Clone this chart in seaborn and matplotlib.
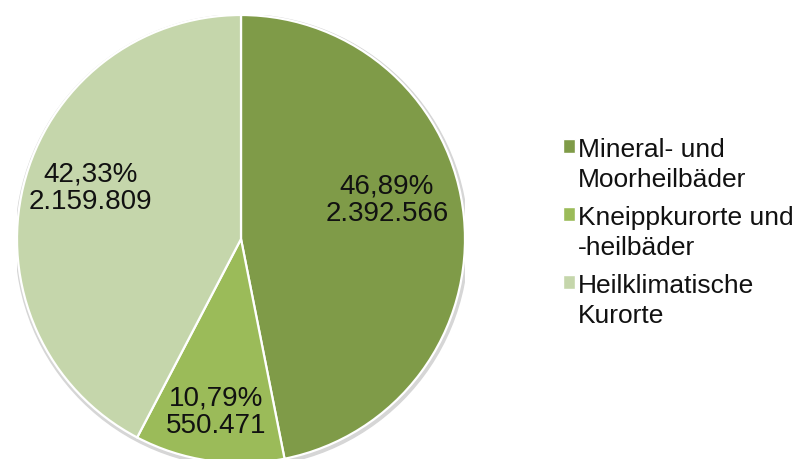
import numpy as np
import seaborn as sns
import matplotlib.pyplot as plt
from matplotlib.patches import Rectangle, Circle
from matplotlib.legend_handler import HandlerPatch

categories = ["Mineral- und\nMoorheilbäder", "Kneippkurorte und\n-heilbäder", "Heilklimatische\nKurorte"]
values = [2392566, 550471, 2159809]
colors = ["#7f9b48", "#9bbb59", "#c5d6ab"]

# label placement relative to wedge middle: (extra angle in degrees, radius)
label_place = [(9.5, 0.675), (0.0, 0.775), (-5.3, 0.71)]

sns.set_theme(style="white")
plt.rcParams['font.family'] = ['Liberation Sans', 'DejaVu Sans']


def de_int(v):
    return f"{v:,}".replace(",", ".")


def de_pct(p):
    return f"{p:.2f}%".replace(".", ",")


fig = plt.figure(figsize=(8.03, 4.6), dpi=100)
ax = fig.add_axes([17 / 803, -4 / 460, 448 / 803, 448 / 460])

# faint shadow behind the pie
ax.add_patch(Circle((0.004, -0.008), 1.01, color="#d6d6d6", zorder=0))

wedges, _ = ax.pie(values, colors=colors, startangle=90, counterclock=False,
                   wedgeprops=dict(edgecolor="white", linewidth=1.6))

total = sum(values)
for w, v, (dang, r) in zip(wedges, values, label_place):
    ang = np.deg2rad((w.theta1 + w.theta2) / 2 + dang)
    ax.text(r * np.cos(ang), r * np.sin(ang),
            de_pct(100 * v / total) + "\n" + de_int(v),
            ha="center", va="center", fontsize=20, color="#111111",
            linespacing=1.07)

ax.set_xlim(-1, 1)
ax.set_ylim(-1, 1)
ax.set_aspect("equal")
ax.axis("off")


def square(legend, orig_handle, xdescent, ydescent, width, height, fontsize):
    # put the square next to the first line of the two-line label
    return Rectangle((-xdescent, -ydescent + 0.67 * fontsize), width, height)


handles = [Rectangle((0, 0), 1, 1, facecolor=c) for c in colors]
leg = fig.legend(handles, categories, loc="center left",
                 bbox_to_anchor=(563 / 803, 0.494), frameon=False,
                 fontsize=19, borderpad=0, borderaxespad=0, handlelength=0.45,
                 handleheight=0.45, handletextpad=0.12, labelspacing=0.52,
                 handler_map={Rectangle: HandlerPatch(patch_func=square)})
for t in leg.get_texts():
    t.set_linespacing(1.33)
    t.set_color("#111111")

fig.savefig("out.png", dpi=100)
